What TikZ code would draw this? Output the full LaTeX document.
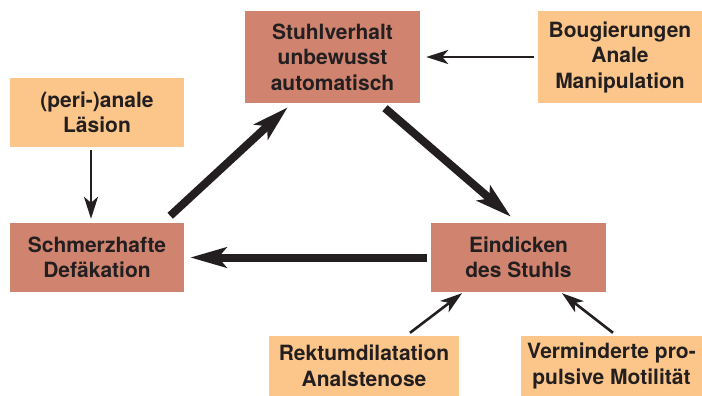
\documentclass[tikz,border=0pt]{standalone}
\usepackage{fontspec}
\setmainfont{TeX Gyre Heros}
\usetikzlibrary{arrows.meta}
\definecolor{boxdark}{RGB}{208,132,112}
\definecolor{boxlight}{RGB}{252,198,138}
\definecolor{ink}{RGB}{35,31,32}
\begin{document}
\begin{tikzpicture}[x=1pt,y=-1pt, font=\fontsize{21}{25.5}\selectfont\bfseries, text=ink]
            \useasboundingbox (0,0) rectangle (702,396);
            \tikzset{
              cause/.style={fill=boxdark,inner sep=0pt,align=center},
              factor/.style={fill=boxlight,inner sep=0pt,align=center},
              thickarrow/.style={draw=ink,line width=8pt,-{Stealth[length=36pt,width=20pt,inset=8pt]}},
              thinarrow/.style={draw=ink,line width=2.6pt,-{Stealth[length=22pt,width=14pt,inset=6pt]}}
            }
            \begin{scope}[every node/.style={cause}]
            \node[minimum width=175pt,minimum height=92pt] (stuhl) at (332.5,57) {Stuhlverhalt\\unbewusst\\automatisch};
            \node[minimum width=174pt,minimum height=69pt] (schmerz) at (97,257.5) {Schmerzhafte\\Defäkation};
            \node[minimum width=175pt,minimum height=69pt] (eindick) at (518.5,257.5) {Eindicken\\des Stuhls};
            \end{scope}
            \begin{scope}[every node/.style={factor}]
            \node[minimum width=164pt,minimum height=92pt] (bougie) at (620,57) {Bougierungen\\Anale\\Manipulation};
            \node[minimum width=174pt,minimum height=69pt] (laesion) at (97,112.5) {(peri-)anale\\Läsion};
            \node[minimum width=190pt,minimum height=60pt] (rektum) at (364,366) {Rektumdilatation\\Analstenose};
            \node[minimum width=181pt,minimum height=60pt] (vermind) at (611.5,366) {Verminderte pro-\\pulsive Motilität};
            \end{scope}
            \begin{scope}[every edge/.style={thickarrow}]
            \draw ([xshift=-14pt,yshift=7pt]schmerz.north east) edge ([xshift=43pt,yshift=-4pt]stuhl.south west);
            \draw ([xshift=52.5pt,yshift=-5pt]stuhl.south) edge ([xshift=-7.5pt,yshift=6pt]eindick.north);
            \draw ([xshift=-4pt]eindick.west) edge ([xshift=6pt]schmerz.east);
            \end{scope}
            \begin{scope}[every edge/.style={thinarrow}]
            \draw ([xshift=-4pt]bougie.west) edge ([xshift=6pt]stuhl.east);
            \draw ([xshift=-6pt,yshift=-3pt]laesion.south) edge ([xshift=-6pt,yshift=4pt]schmerz.north);
            \draw ([xshift=46pt,yshift=3pt]rektum.north) edge ([xshift=-56.5pt,yshift=-1pt]eindick.south);
            \draw ([xshift=1.5pt,yshift=3pt]vermind.north) edge ([xshift=43.5pt,yshift=-1pt]eindick.south);
            \end{scope}
            \end{tikzpicture}
\end{document}
